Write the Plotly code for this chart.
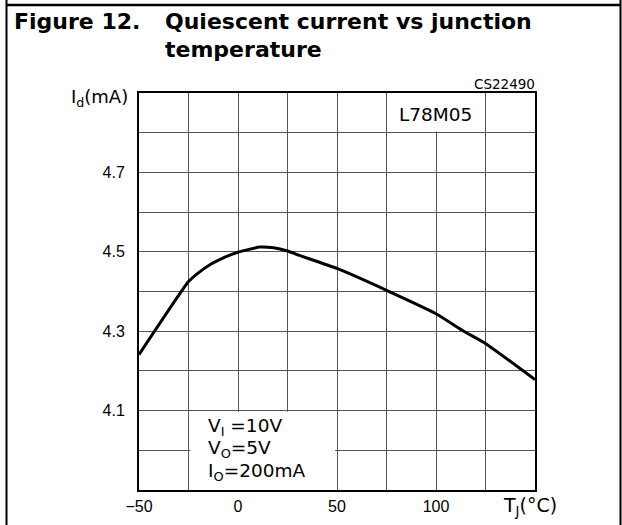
import plotly.graph_objects as go

# ---- data ----
temp_c = [-50, -25, -20, -14, -9, 0, 11, 18, 25, 31, 50, 75, 100, 114, 125, 150]
iq_ma = [4.241, 4.425, 4.447, 4.468, 4.481, 4.499, 4.512, 4.510, 4.502, 4.491,
         4.458, 4.403, 4.344, 4.300, 4.269, 4.178]

x_grid = [-50, -25, 0, 25, 50, 75, 100, 125, 150]
x_labels = ["−50", "", "0", "", "50", "", "100", "", ""]
y_grid = [3.9, 4.0, 4.1, 4.2, 4.3, 4.4, 4.5, 4.6, 4.7, 4.8, 4.9]
y_labels = ["", "", "4.1", "", "4.3", "", "4.5", "", "4.7", "", ""]

title_fig = "Figure 12."
title_text = ["Quiescent current vs junction", "temperature"]
cond_lines = ["V<sub>I</sub> =10V", "V<sub>O</sub>=5V", "I<sub>O</sub>=200mA"]
device = "L78M05"
code = "CS22490"
x_title = "T<sub>J</sub>(°C)"
y_title = "I<sub>d</sub>(mA)"

W, H = 622, 525
L, R, T, B = 139, 87, 93, 35
PW, PH = W - L - R, H - T - B


def px(xp):
    return (xp - L) / PW


def py(yp):
    return (H - B - yp) / PH


TICKFONT = dict(family="Liberation Sans", size=16, color="black")
TXTFONT = dict(family="DejaVu Sans", size=18, color="black")

fig = go.Figure()
fig.add_trace(go.Scatter(x=temp_c, y=iq_ma, mode="lines",
                         line=dict(color="black", width=3, shape="spline", smoothing=0.4),
                         hoverinfo="skip", showlegend=False))

fig.update_xaxes(range=[-50, 150], tickmode="array", tickvals=x_grid, ticktext=x_labels,
                 showgrid=True, gridcolor="#555555", gridwidth=1, zeroline=False,
                 showline=True, linecolor="black", linewidth=2, mirror=True,
                 ticks="", tickfont=TICKFONT, ticklabelstandoff=1, automargin=False)
fig.update_yaxes(range=[3.9, 4.9], tickmode="array", tickvals=y_grid, ticktext=y_labels,
                 showgrid=True, gridcolor="#555555", gridwidth=1, zeroline=False,
                 showline=True, linecolor="black", linewidth=2, mirror=True,
                 ticks="", tickfont=TICKFONT, ticklabelstandoff=9, automargin=False)

shapes = [
    # white boxes hiding the grid under the labels
    dict(type="rect", xref="x", yref="y", x0=-24, x1=49, y0=3.9, y1=4.097,
         fillcolor="white", line=dict(width=0), layer="between"),
    dict(type="rect", xref="x", yref="y", x0=76, x1=124, y0=4.803, y1=4.9,
         fillcolor="white", line=dict(width=0), layer="between"),
    # page frame
    dict(type="line", xref="paper", yref="paper", x0=px(6), x1=px(621), y0=py(5), y1=py(5),
         line=dict(color="black", width=2.5)),
    dict(type="line", xref="paper", yref="paper", x0=px(6.5), x1=px(6.5), y0=py(0), y1=py(525),
         line=dict(color="black", width=2)),
    dict(type="line", xref="paper", yref="paper", x0=px(620.5), x1=px(620.5), y0=py(0), y1=py(525),
         line=dict(color="black", width=2)),
]

TITLEFONT = dict(family="DejaVu Sans", size=22, color="black")
ann = [
    dict(text="<b>" + title_fig + "</b>", x=px(12), y=py(21), xanchor="left", yanchor="middle",
         font=TITLEFONT),
    dict(text="<b>" + title_text[0] + "</b>", x=px(163), y=py(21), xanchor="left", yanchor="middle",
         font=TITLEFONT),
    dict(text="<b>" + title_text[1] + "</b>", x=px(163), y=py(50), xanchor="left", yanchor="middle",
         font=TITLEFONT),
    dict(text=code, x=px(537), y=py(84), xanchor="right", yanchor="middle",
         font=dict(family="DejaVu Sans", size=13.5, color="black")),
    dict(text=device, x=px(435), y=py(114), xanchor="center", yanchor="middle",
         font=dict(family="DejaVu Sans", size=18.5, color="black")),
    dict(text=y_title, x=px(130), y=py(98), xanchor="right", yanchor="middle", font=TXTFONT),
    dict(text=x_title, x=px(530), y=py(506), xanchor="center", yanchor="middle",
         font=dict(family="DejaVu Sans", size=19, color="black")),
]
for i, t in enumerate(cond_lines):
    ann.append(dict(text=t, x=px(206), y=py([427, 449, 472][i]), xanchor="left", yanchor="middle",
                    font=dict(family="DejaVu Sans", size=18.5, color="black")))
for a in ann:
    a.update(xref="paper", yref="paper", showarrow=False)

fig.update_layout(width=W, height=H, autosize=False,
                  margin=dict(l=L, r=R, t=T, b=B, pad=0, autoexpand=False),
                  paper_bgcolor="white", plot_bgcolor="white",
                  shapes=shapes, annotations=ann, showlegend=False)

fig.write_html("out.html", config={"displayModeBar": False},
               post_script="document.body.style.margin='0';")
